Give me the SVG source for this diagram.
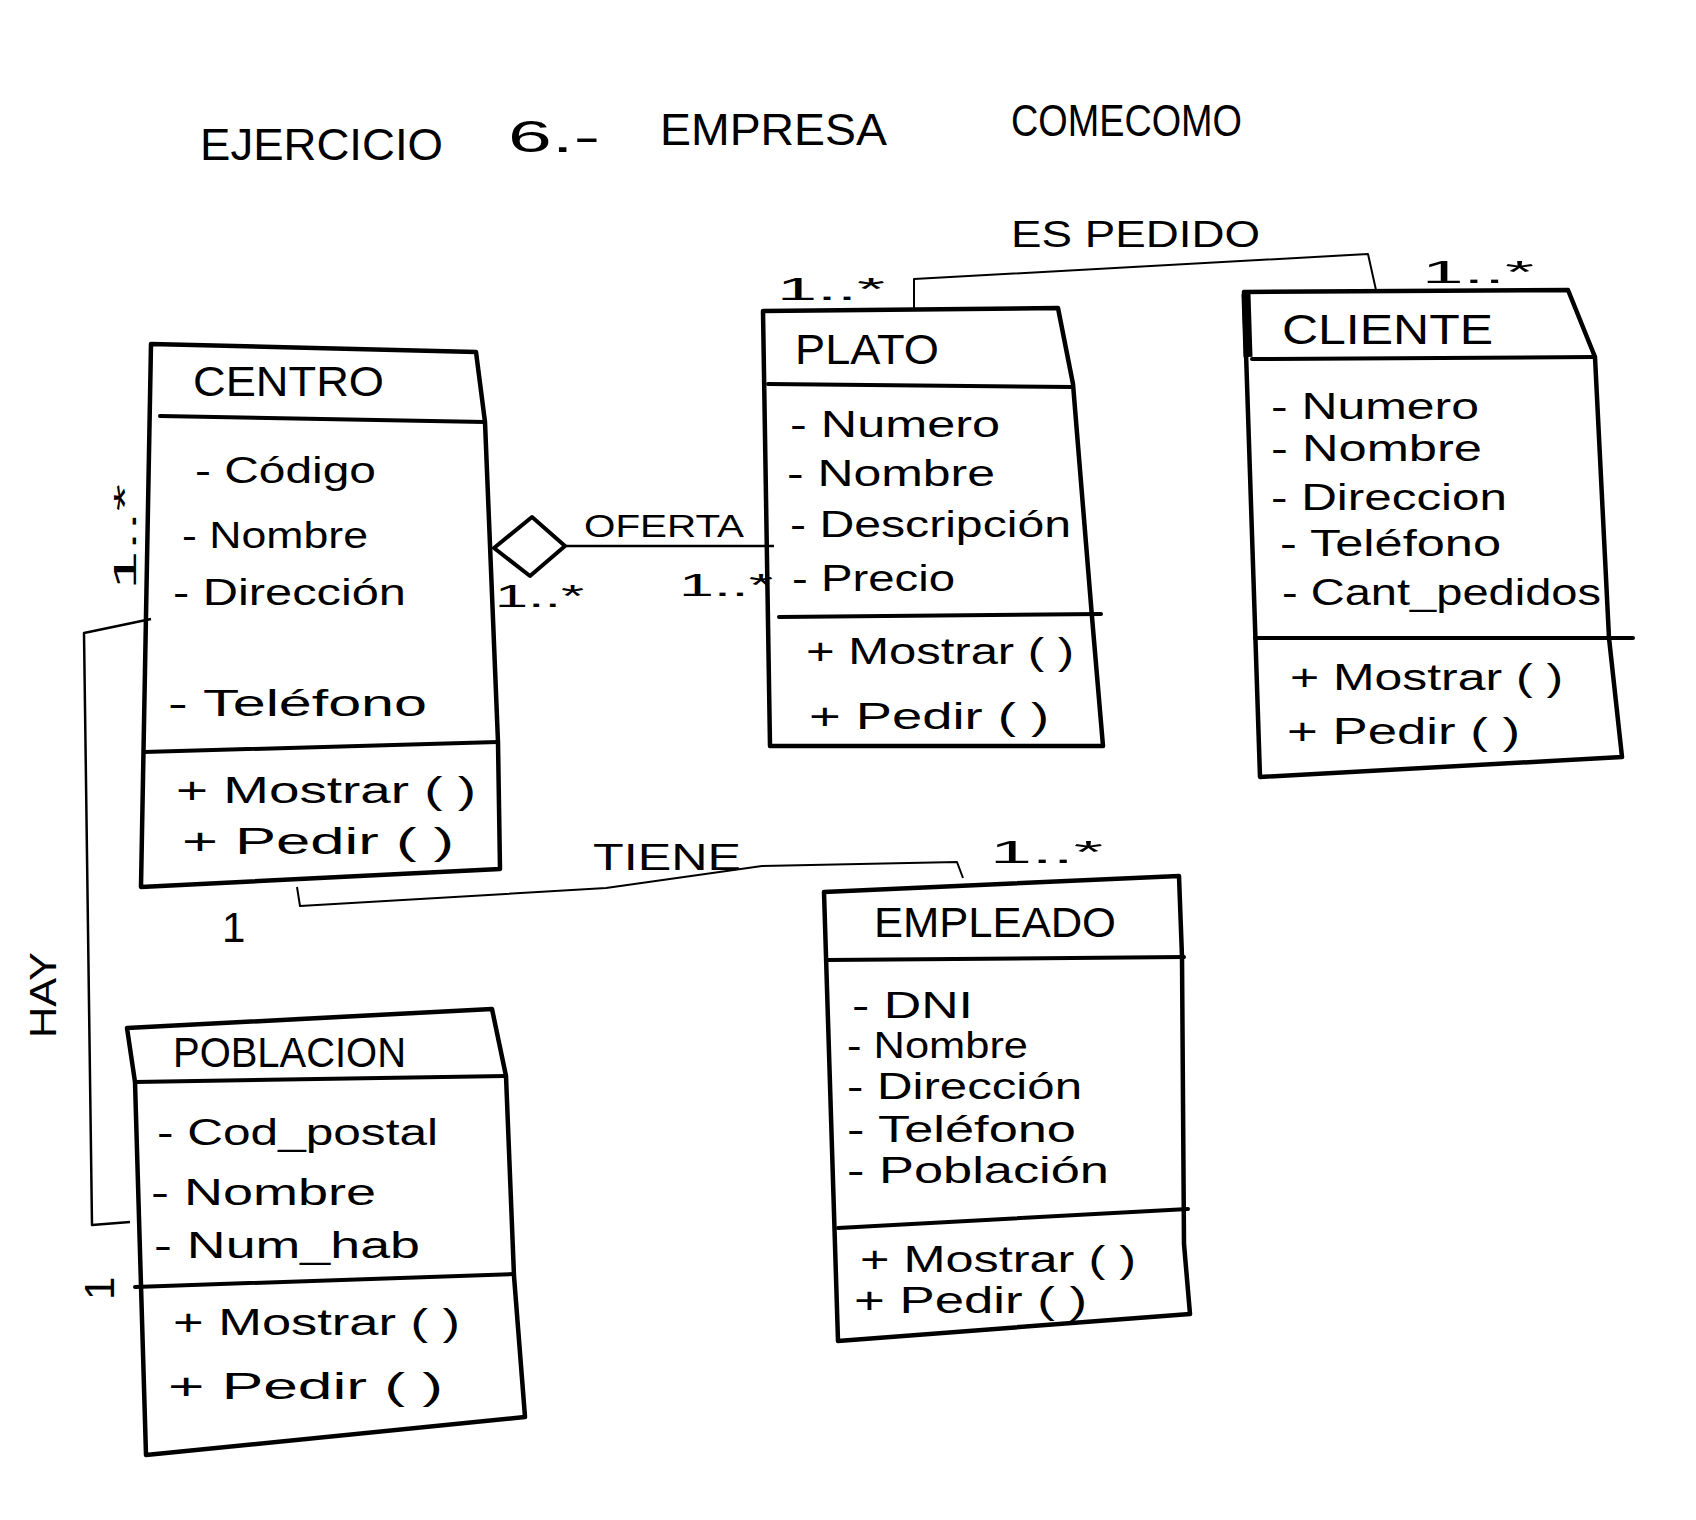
<svg xmlns="http://www.w3.org/2000/svg" width="1696" height="1520" viewBox="0 0 1696 1520">
<style>
.box{fill:none;stroke:#000;stroke-width:4.5;stroke-linejoin:round;stroke-linecap:round}
.div{fill:none;stroke:#000;stroke-width:4;stroke-linecap:round}
.conn{fill:none;stroke:#000;stroke-width:2.5;stroke-linejoin:round}
.thin{fill:none;stroke:#000;stroke-width:2;stroke-linejoin:round}
text{font-family:"Liberation Sans",Arial,sans-serif;fill:#000}
.title{font-size:44px}
.cls{font-size:42px}
.attr{font-size:36px}
.lbl{font-size:32px}
.one{font-size:42px}
</style>
<rect x="0" y="0" width="1696" height="1520" fill="#fff"/>

<g id="heading">
<text class="title" x="200" y="160" textLength="243" lengthAdjust="spacingAndGlyphs">EJERCICIO</text>
<text class="title" x="508" y="152" textLength="92" lengthAdjust="spacingAndGlyphs">6.-</text>
<text class="title" x="660" y="145" textLength="227" lengthAdjust="spacingAndGlyphs">EMPRESA</text>
<text class="title" x="1011" y="136" textLength="231" lengthAdjust="spacingAndGlyphs">COMECOMO</text>
</g>

<g id="connectors">
<g id="es-pedido">
<polyline class="thin" points="914,308 914,279 1368,254 1376,290"/>
<text class="attr" x="1011" y="247" textLength="249" lengthAdjust="spacingAndGlyphs">ES PEDIDO</text>
<text class="lbl" x="777" y="300" textLength="108" lengthAdjust="spacingAndGlyphs">1..*</text>
<text class="lbl" x="1422" y="283" textLength="112" lengthAdjust="spacingAndGlyphs">1..*</text>
</g>
<g id="oferta">
<line class="conn" x1="565" y1="546" x2="774" y2="546"/>
<polygon points="494,548 532,517 565,546 530,576" fill="#fff" stroke="#000" stroke-width="4" stroke-linejoin="round"/>
<text class="lbl" x="584" y="537" textLength="160" lengthAdjust="spacingAndGlyphs">OFERTA</text>
<text class="lbl" x="495" y="607" font-size="28" textLength="89" lengthAdjust="spacingAndGlyphs">1..*</text>
<text class="lbl" x="679" y="596" textLength="94" lengthAdjust="spacingAndGlyphs">1..*</text>
</g>
<g id="tiene">
<polyline class="thin" points="297,887 300,906 606,888 762,866 957,862 963,878"/>
<text class="attr" x="593" y="870" textLength="148" lengthAdjust="spacingAndGlyphs">TIENE</text>
<text class="lbl" x="990" y="863" textLength="113" lengthAdjust="spacingAndGlyphs">1..*</text>
<text class="one" x="222" y="942">1</text>
</g>
<g id="hay">
<polyline class="conn" points="151,619 84,633 92,1225 130,1222"/>
<text class="attr" transform="translate(56,1038) rotate(-90)" textLength="86" lengthAdjust="spacingAndGlyphs">HAY</text>
<text class="lbl" transform="translate(136,590) rotate(-90)" textLength="106" lengthAdjust="spacingAndGlyphs">1..*</text>
<text class="one" transform="translate(114,1300) rotate(-90)">1</text>
</g>
</g>

<g id="centro">
<path class="box" d="M151,344 L476,352 L485,422 L498,742 L500,869 L141,887 Z"/>
<line class="div" x1="160" y1="416" x2="485" y2="422"/>
<line class="div" x1="144" y1="752" x2="498" y2="742"/>
<text class="cls" x="193" y="396" textLength="191" lengthAdjust="spacingAndGlyphs">CENTRO</text>
<text class="attr" x="195" y="483" font-size="40" textLength="181" lengthAdjust="spacingAndGlyphs">- Código</text>
<text class="attr" x="182" y="548" textLength="186" lengthAdjust="spacingAndGlyphs">- Nombre</text>
<text class="attr" x="173" y="605" textLength="233" lengthAdjust="spacingAndGlyphs">- Dirección</text>
<text class="attr" x="168" y="716" font-size="40" textLength="259" lengthAdjust="spacingAndGlyphs">- Teléfono</text>
<text class="attr" x="176" y="803" textLength="300" lengthAdjust="spacingAndGlyphs">+ Mostrar ( )</text>
<text class="attr" x="182" y="854" textLength="272" lengthAdjust="spacingAndGlyphs">+ Pedir ( )</text>
</g>

<g id="plato">
<path class="box" d="M763,311 L1058,308 L1073,384 L1092,617 L1103,746 L770,746 Z"/>
<line class="div" x1="768" y1="384" x2="1073" y2="387"/>
<line class="div" x1="779" y1="617" x2="1101" y2="614"/>
<text class="cls" x="795" y="364" textLength="144" lengthAdjust="spacingAndGlyphs">PLATO</text>
<text class="attr" x="790" y="437" textLength="210" lengthAdjust="spacingAndGlyphs">- Numero</text>
<text class="attr" x="787" y="486" textLength="208" lengthAdjust="spacingAndGlyphs">- Nombre</text>
<text class="attr" x="790" y="537" textLength="281" lengthAdjust="spacingAndGlyphs">- Descripción</text>
<text class="attr" x="792" y="591" textLength="163" lengthAdjust="spacingAndGlyphs">- Precio</text>
<text class="attr" x="806" y="664" textLength="268" lengthAdjust="spacingAndGlyphs">+ Mostrar ( )</text>
<text class="attr" x="809" y="729" textLength="240" lengthAdjust="spacingAndGlyphs">+ Pedir ( )</text>
</g>

<g id="cliente">
<path class="box" d="M1244,292 L1568,290 L1595,357 L1609,638 L1622,757 L1260,777 Z"/>
<line x1="1246" y1="294" x2="1248" y2="357" stroke="#000" stroke-width="9"/>
<line class="div" x1="1252" y1="359" x2="1595" y2="357"/>
<line class="div" x1="1255" y1="638" x2="1633" y2="638"/>
<text class="cls" x="1282" y="344" textLength="211" lengthAdjust="spacingAndGlyphs">CLIENTE</text>
<text class="attr" x="1271" y="419" font-size="34" textLength="208" lengthAdjust="spacingAndGlyphs">- Numero</text>
<text class="attr" x="1271" y="461" font-size="34" textLength="211" lengthAdjust="spacingAndGlyphs">- Nombre</text>
<text class="attr" x="1271" y="510" font-size="34" textLength="236" lengthAdjust="spacingAndGlyphs">- Direccion</text>
<text class="attr" x="1280" y="556" font-size="34" textLength="221" lengthAdjust="spacingAndGlyphs">- Teléfono</text>
<text class="attr" x="1282" y="605" font-size="34" textLength="319" lengthAdjust="spacingAndGlyphs">- Cant_pedidos</text>
<text class="attr" x="1290" y="690" textLength="273" lengthAdjust="spacingAndGlyphs">+ Mostrar ( )</text>
<text class="attr" x="1287" y="744" textLength="233" lengthAdjust="spacingAndGlyphs">+ Pedir ( )</text>
</g>

<g id="empleado">
<path class="box" d="M824,892 L1179,876 L1182,957 L1184,1244 L1190,1314 L838,1341 Z"/>
<line class="div" x1="827" y1="960" x2="1184" y2="957"/>
<line class="div" x1="838" y1="1228" x2="1188" y2="1209"/>
<text class="cls" x="874" y="937" font-size="40" textLength="242" lengthAdjust="spacingAndGlyphs">EMPLEADO</text>
<text class="attr" x="852" y="1018" font-size="34" textLength="121" lengthAdjust="spacingAndGlyphs">- DNI</text>
<text class="attr" x="847" y="1058" font-size="34" textLength="181" lengthAdjust="spacingAndGlyphs">- Nombre</text>
<text class="attr" x="847" y="1099" font-size="34" textLength="235" lengthAdjust="spacingAndGlyphs">- Dirección</text>
<text class="attr" x="847" y="1142" font-size="34" textLength="229" lengthAdjust="spacingAndGlyphs">- Teléfono</text>
<text class="attr" x="847" y="1183" font-size="34" textLength="262" lengthAdjust="spacingAndGlyphs">- Población</text>
<text class="attr" x="860" y="1272" font-size="34" textLength="276" lengthAdjust="spacingAndGlyphs">+ Mostrar ( )</text>
<text class="attr" x="854" y="1313" font-size="34" textLength="233" lengthAdjust="spacingAndGlyphs">+ Pedir ( )</text>
</g>

<g id="poblacion">
<path class="box" d="M127,1028 L492,1009 L506,1076 L514,1276 L525,1417 L146,1455 L135,1082 Z"/>
<line class="div" x1="135" y1="1082" x2="506" y2="1076"/>
<line class="div" x1="135" y1="1287" x2="514" y2="1274"/>
<text class="cls" x="173" y="1067" font-size="40" textLength="233" lengthAdjust="spacingAndGlyphs">POBLACION</text>
<text class="attr" x="157" y="1145" textLength="281" lengthAdjust="spacingAndGlyphs">- Cod_postal</text>
<text class="attr" x="151" y="1205" textLength="225" lengthAdjust="spacingAndGlyphs">- Nombre</text>
<text class="attr" x="154" y="1258" textLength="266" lengthAdjust="spacingAndGlyphs">- Num_hab</text>
<text class="attr" x="173" y="1335" textLength="287" lengthAdjust="spacingAndGlyphs">+ Mostrar ( )</text>
<text class="attr" x="168" y="1399" textLength="275" lengthAdjust="spacingAndGlyphs">+ Pedir ( )</text>
</g>
</svg>
